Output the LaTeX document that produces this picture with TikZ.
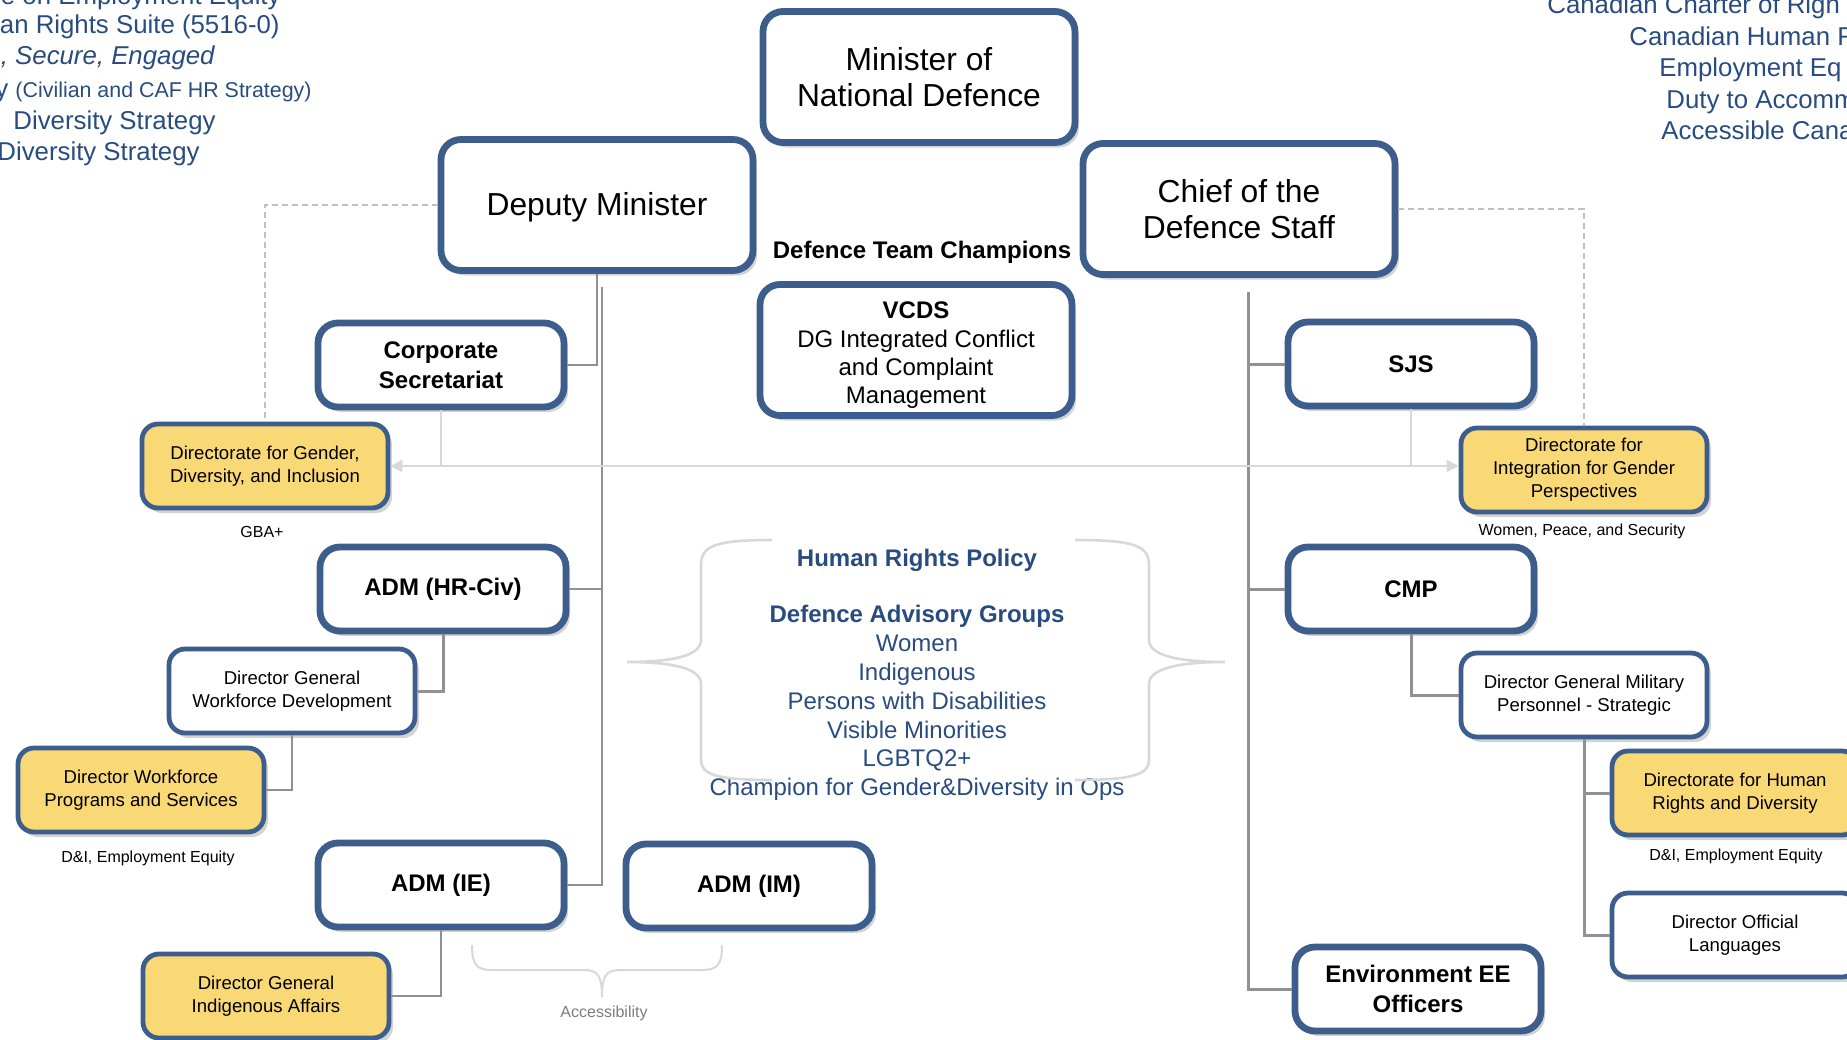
\documentclass[tikz,border=0pt]{standalone}
\usepackage{fontspec}
\setmainfont{Liberation Sans}
\usepackage{tikz}
\usetikzlibrary{calc}
\usetikzlibrary{shadows}
\usetikzlibrary{arrows.meta}

\definecolor{boxblue}{RGB}{61,94,140}
\definecolor{lawblue}{RGB}{41,76,128}
\definecolor{gold}{RGB}{249,216,118}
\definecolor{linegray}{RGB}{145,145,145}
\definecolor{palegray}{RGB}{216,216,216}
\definecolor{dashgray}{RGB}{192,192,192}
\definecolor{notegray}{RGB}{125,125,125}

\tikzset{
    bigbox/.style={draw=boxblue, line width=3.4pt, rounded corners=10pt, fill=white, minimum width=156pt, minimum height=65.5pt, align=center, font=\fontsize{15.9}{18.3}\selectfont, drop shadow={shadow xshift=2pt, shadow yshift=-2.5pt, opacity=0.35}},
    midbox/.style={bigbox, minimum width=123pt, minimum height=42pt, font=\bfseries\fontsize{12}{14.75}\selectfont},
    smallbox/.style={bigbox, line width=2.4pt, rounded corners=8pt, minimum width=123pt, minimum height=42pt, font=\fontsize{9.3}{11.2}\selectfont},
    goldbox/.style={smallbox, fill=gold},
    tag/.style={font=\fontsize{8}{9.6}\selectfont, inner sep=0pt},
    lawtext/.style={text=lawblue, font=\fontsize{12.9}{15.5}\selectfont, inner sep=0pt},
    conn/.style={draw=linegray, line width=1.5pt},
    thinconn/.style={draw=linegray, line width=1pt},
    paleline/.style={draw=palegray, line width=1pt},
    braceline/.style={draw=palegray, line width=1.3pt},
    dashline/.style={draw=dashgray, line width=0.7pt, dash pattern=on 3pt off 2pt}
}

\begin{document}
\begin{tikzpicture}[x=0.5pt,y=-0.5pt]
        \useasboundingbox (0,0) rectangle (1847,1039);

        \node[lawtext, anchor=base east] (lawa) at (281,4) {e on Employment Equity};
        \node[lawtext, anchor=base east] (lawb) at (280,33) {an Rights Suite (5516-0)};
        \node[lawtext, anchor=base east] (lawc) at (215,64) {\itshape , Secure, Engaged};
        \node[lawtext, anchor=base east] (lawd) at (312,97) {y {\fontsize{10.7}{13}\selectfont (Civilian and CAF HR Strategy)}};
        \node[lawtext, anchor=base east] (lawe) at (216,129) {Diversity Strategy};
        \node[lawtext, anchor=base east] (lawf) at (200,160) {Diversity Strategy};

        \node[lawtext, anchor=base west] (actsa) at (1547,13) {Canadian Charter of Righ};
        \node[lawtext, anchor=base west] (actsb) at (1629,45) {Canadian Human R};
        \node[lawtext, anchor=base west] (actsc) at (1659,76) {Employment Eq};
        \node[lawtext, anchor=base west] (actsd) at (1666,108) {Duty to Accomm};
        \node[lawtext, anchor=base west] (actse) at (1661,139) {Accessible Cana};

        \node[bigbox] (mnd) at (919,77) {Minister of\\National Defence};
        \node[bigbox] (dm) at (597,205) {\rule{0pt}{14pt}Deputy Minister};
        \node[bigbox] (cds) at (1239,209) {Chief of the\\Defence Staff};
        \node[font=\bfseries\fontsize{12}{14}\selectfont, inner sep=0pt] (champ) at (922,252) {Defence Team Champions};
        \node[bigbox, font=\fontsize{12}{14.1}\selectfont] (vcds) at (916,350) {\rule{0pt}{13.6pt}\textbf{VCDS}\\DG Integrated Conflict\\and Complaint\\Management};

        \node[midbox] (cs) at (441,365) {Corporate\\Secretariat};
        \node[midbox] (sjs) at (1411,364) {SJS};
        \node[goldbox] (dgdi) at (265,466) {Directorate for Gender,\\Diversity, and Inclusion};
        \node[tag] (gba) at (262,532) {GBA+};
        \node[goldbox, font=\fontsize{9.3}{11.5}\selectfont] (digp) at (1584,470) {Directorate for\\Integration for Gender\\Perspectives};
        \node[tag] (wps) at (1582,531) {Women, Peace, and Security};

        \node[midbox] (admhr) at (443,589) {ADM (HR-Civ)};
        \node[midbox] (cmp) at (1411,589) {CMP};
        \node[smallbox] (dgwd) at (292,691) {Director General\\Workforce Development};
        \node[smallbox] (dgmps) at (1584,695) {Director General Military\\Personnel - Strategic};
        \node[goldbox] (dwps) at (141,790) {Director Workforce\\Programs and Services};
        \node[tag] (deia) at (148,858) {D\&I, Employment Equity};
        \node[goldbox] (dhrd) at (1735,793) {Directorate for Human\\Rights and Diversity};
        \node[tag] (deib) at (1736,856) {D\&I, Employment Equity};
        \node[smallbox] (dol) at (1735,935) {Director Official\\Languages};

        \node[midbox] (admie) at (441,885) {ADM (IE)};
        \node[midbox] (admim) at (749,886) {ADM (IM)};
        \node[goldbox] (dgia) at (266,996) {Director General\\Indigenous Affairs};
        \node[midbox] (env) at (1418,989) {Environment EE\\Officers};
        \node[tag, text=notegray] (access) at (604,1013) {Accessibility};

        \node[text=lawblue, align=center, font=\fontsize{12}{14.4}\selectfont] (hrp) at (917,675) {\textbf{Human Rights Policy}\\[13.6pt]\textbf{Defence Advisory Groups}\\Women\\Indigenous\\Persons with Disabilities\\Visible Minorities\\LGBTQ2+\\Champion for Gender\&Diversity in Ops};

        \coordinate (dmspine) at ($(dm.south)+(5,13)$);
        \coordinate (cdsspine) at ($(cds.south)+(9,14)$);

        \draw[thinconn](dm.south) |- (cs.east);
        \draw[thinconn](dmspine) |- (admie.east);
        \draw[thinconn](dmspine |- admhr.east) -- (admhr.east);
        \draw[conn](cdsspine) |- (env.west);
        \draw[conn](cdsspine |- sjs.west) -- (sjs.west);
        \draw[conn](cdsspine |- cmp.west) -- (cmp.west);
        \draw[conn](admhr.south) |- (dgwd.east);
        \draw[thinconn](dgwd.south) |- (dwps.east);
        \draw[thinconn](admie.south) |- (dgia.east);
        \draw[conn](cmp.south) |- (dgmps.west);
        \draw[conn](dgmps.south) |- (dhrd.west);
        \draw[conn](dgmps.south) |- (dol.west);

        \draw[paleline](cs.south) -- (cs.south |- dgdi.east);
        \draw[paleline](sjs.south) -- (sjs.south |- dgdi.east);
        \draw[paleline, {Triangle[length=6pt,width=6pt]}-{Triangle[length=6pt,width=6pt]}](dgdi.east) -- (dgdi.east -| digp.west);

        \draw[dashline](dm.west) -| (dgdi.north);
        \draw[dashline](cds.east) -| (digp.north);

        \draw[braceline](772,540) .. controls (715,540) and (701,546) .. (701,565)--(701,640) .. controls (701,655) and (675,662) .. (627,662) .. controls (675,662) and (701,669) .. (701,684)--(701,760) .. controls (701,774) and (715,780) .. (772,780);
        \draw[braceline](1075,540) .. controls (1135,540) and (1149,546) .. (1149,565)--(1149,640) .. controls (1149,655) and (1177,662) .. (1225,662) .. controls (1177,662) and (1149,669) .. (1149,684)--(1149,760) .. controls (1149,774) and (1135,780) .. (1075,780);
        \draw[braceline, line width=1pt](472,945) .. controls (472,964) and (476,970) .. (492,970)--(584,970) .. controls (598,970) and (602,976) .. (602,997);
        \draw[braceline, line width=1pt](722,945) .. controls (722,964) and (718,970) .. (702,970)--(620,970) .. controls (606,970) and (602,976) .. (602,997);
\end{tikzpicture}
\end{document}
